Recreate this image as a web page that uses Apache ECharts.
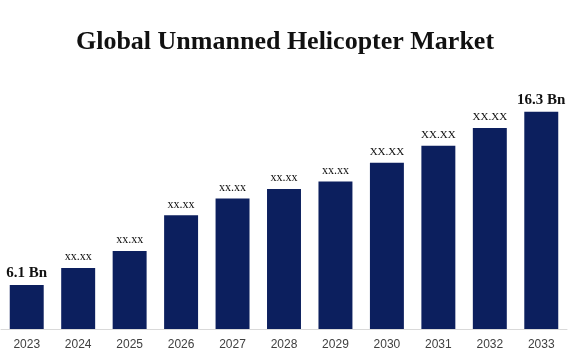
<!DOCTYPE html>
<html><head><meta charset="utf-8">
<script src="https://cdn.jsdelivr.net/npm/echarts@6/dist/echarts.min.js"></script>
<style>html,body{margin:0;padding:0;background:#fff}#c{width:570px;height:360px}</style>
</head><body><div id="c"></div>
<script>
var categories = ['2023','2024','2025','2026','2027','2028','2029','2030','2031','2032','2033'];
var values = [6.1, 7.1, 8.1, 10.2, 11.2, 11.75, 12.2, 13.3, 14.3, 15.35, 16.3];
var labels = ['6.1 Bn','xx.xx','xx.xx','xx.xx','xx.xx','xx.xx','xx.xx','XX.XX','XX.XX','XX.XX','16.3 Bn'];
var labelKind = ['big','small','small','small','small','small','small','upper','upper','upper','big'];

var chart = echarts.init(document.getElementById('c'), null, {renderer:'canvas'});
chart.setOption({
  animation:false,
  backgroundColor:'#ffffff',
  title:{text:'Global Unmanned Helicopter Market',left:'center',top:24,
    textStyle:{fontFamily:'Liberation Serif',fontWeight:'bold',fontSize:26,color:'#111111'}},
  grid:{left:1,right:3,top:100,bottom:31,containLabel:false},
  xAxis:{type:'category',data:categories,
    axisLine:{show:true,lineStyle:{color:'#d9d9d9',width:1}},
    axisTick:{show:false},
    axisLabel:{margin:10,fontFamily:'Liberation Sans',fontSize:12,color:'#404040'}},
  yAxis:{type:'value',min:3.5,max:17,show:false,splitLine:{show:false}},
  series:[{type:'bar',barWidth:'66%',
    data:values.map(function(v,i){
      var k = labelKind[i];
      return {value:v,label:{show:true,position:'top',distance:k==='big'?4:5,
        formatter:labels[i],fontFamily:'Liberation Serif',
        fontWeight:k==='big'?'bold':'normal',fontSize:k==='big'?15:(k==='small'?12:11),color:'#111111'}};
    }),
    itemStyle:{color:'#0c1f5e'}}]
});
</script></body></html>
